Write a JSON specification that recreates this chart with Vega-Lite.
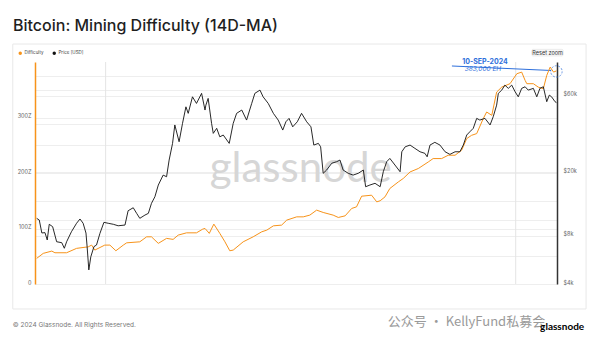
{
  "$schema": "https://vega.github.io/schema/vega-lite/v6.json",
  "width": 522,
  "height": 222,
  "autosize": {"type": "none"},
  "padding": {"left": 35, "top": 62, "right": 43, "bottom": 62},
  "background": "#ffffff",
  "title": {"text": "Bitcoin: Mining Difficulty (14D-MA)", "anchor": "start", "frame": "group", "fontSize": 16, "fontWeight": 500, "font": "Inter", "color": "#1f1f1f", "dx": -22, "dy": 19, "offset": 15.5, "baseline": "alphabetic"},
  "config": {"view": {"stroke": null}, "font": "Inter", "axis": {"labelFont": "Inter"}, "legend": {"labelFont": "Inter"}},
  "datasets": {
    "difficulty": [
      {"date": "2019-09-12", "difficulty": 46.2}, {"date": "2019-10-05", "difficulty": 55.2}, {"date": "2019-11-04", "difficulty": 59.3}, {"date": "2019-11-15", "difficulty": 56.3}, {"date": "2019-12-26", "difficulty": 56.3},
      {"date": "2020-01-30", "difficulty": 64.2}, {"date": "2020-03-11", "difficulty": 67.0}, {"date": "2020-03-23", "difficulty": 70.1}, {"date": "2020-04-03", "difficulty": 61.1}, {"date": "2020-05-08", "difficulty": 70.1},
      {"date": "2020-05-26", "difficulty": 70.1}, {"date": "2020-06-16", "difficulty": 59.9}, {"date": "2020-07-12", "difficulty": 70.1}, {"date": "2020-07-24", "difficulty": 74.2}, {"date": "2020-09-08", "difficulty": 76.0},
      {"date": "2020-10-02", "difficulty": 85.0}, {"date": "2020-10-19", "difficulty": 85.0}, {"date": "2020-11-12", "difficulty": 73.2}, {"date": "2020-12-11", "difficulty": 82.2}, {"date": "2021-01-03", "difficulty": 80.4},
      {"date": "2021-01-21", "difficulty": 88.1}, {"date": "2021-02-19", "difficulty": 92.2}, {"date": "2021-03-26", "difficulty": 92.2}, {"date": "2021-04-17", "difficulty": 98.9}, {"date": "2021-04-25", "difficulty": 100.1},
      {"date": "2021-05-10", "difficulty": 91.2}, {"date": "2021-05-26", "difficulty": 107.9}, {"date": "2021-06-16", "difficulty": 91.2}, {"date": "2021-07-04", "difficulty": 76.0}, {"date": "2021-07-21", "difficulty": 59.9},
      {"date": "2021-08-02", "difficulty": 61.1}, {"date": "2021-09-06", "difficulty": 76.0}, {"date": "2021-10-11", "difficulty": 85.0}, {"date": "2021-11-10", "difficulty": 94.0}, {"date": "2021-11-28", "difficulty": 97.1},
      {"date": "2021-12-21", "difficulty": 104.8}, {"date": "2022-01-19", "difficulty": 106.1}, {"date": "2022-02-06", "difficulty": 115.1}, {"date": "2022-03-13", "difficulty": 121.0}, {"date": "2022-04-05", "difficulty": 121.0},
      {"date": "2022-04-28", "difficulty": 124.1}, {"date": "2022-05-22", "difficulty": 133.1}, {"date": "2022-06-14", "difficulty": 128.9}, {"date": "2022-07-19", "difficulty": 124.1}, {"date": "2022-08-06", "difficulty": 119.9},
      {"date": "2022-08-30", "difficulty": 122.8}, {"date": "2022-09-22", "difficulty": 136.1}, {"date": "2022-10-09", "difficulty": 139.0}, {"date": "2022-10-27", "difficulty": 158.2}, {"date": "2022-12-01", "difficulty": 160.0},
      {"date": "2022-12-19", "difficulty": 148.0}, {"date": "2022-12-31", "difficulty": 150.0}, {"date": "2023-01-17", "difficulty": 157.0}, {"date": "2023-02-03", "difficulty": 172.1}, {"date": "2023-03-05", "difficulty": 184.0},
      {"date": "2023-03-22", "difficulty": 190.1}, {"date": "2023-04-15", "difficulty": 201.9}, {"date": "2023-05-14", "difficulty": 208.1}, {"date": "2023-06-18", "difficulty": 219.9}, {"date": "2023-07-05", "difficulty": 226.0},
      {"date": "2023-08-04", "difficulty": 226.0}, {"date": "2023-08-27", "difficulty": 232.0}, {"date": "2023-09-20", "difficulty": 232.0}, {"date": "2023-10-13", "difficulty": 241.0}, {"date": "2023-10-31", "difficulty": 262.0},
      {"date": "2023-11-17", "difficulty": 267.9}, {"date": "2023-12-05", "difficulty": 271.0}, {"date": "2023-12-28", "difficulty": 298.0}, {"date": "2024-01-09", "difficulty": 309.9}, {"date": "2024-01-27", "difficulty": 303.9},
      {"date": "2024-02-13", "difficulty": 345.8}, {"date": "2024-03-02", "difficulty": 354.8}, {"date": "2024-03-31", "difficulty": 360.9}, {"date": "2024-04-24", "difficulty": 378.9}, {"date": "2024-05-11", "difficulty": 381.8},
      {"date": "2024-05-23", "difficulty": 366.9}, {"date": "2024-05-29", "difficulty": 360.9}, {"date": "2024-06-21", "difficulty": 360.9}, {"date": "2024-07-08", "difficulty": 354.8}, {"date": "2024-07-26", "difficulty": 351.9},
      {"date": "2024-08-07", "difficulty": 375.9}, {"date": "2024-08-19", "difficulty": 390.8}, {"date": "2024-08-31", "difficulty": 381.8}, {"date": "2024-09-10", "difficulty": 384.0}
    ],
    "price": [
      {"date": "2019-09-12", "price": 10290}, {"date": "2019-09-21", "price": 10050}, {"date": "2019-09-30", "price": 8340}, {"date": "2019-10-11", "price": 8380}, {"date": "2019-10-19", "price": 7540},
      {"date": "2019-10-26", "price": 9450}, {"date": "2019-11-07", "price": 9130}, {"date": "2019-11-21", "price": 7350}, {"date": "2019-12-09", "price": 7250}, {"date": "2019-12-18", "price": 6690},
      {"date": "2019-12-26", "price": 7350}, {"date": "2020-01-12", "price": 8490}, {"date": "2020-01-30", "price": 9590}, {"date": "2020-02-11", "price": 10200}, {"date": "2020-02-22", "price": 9590},
      {"date": "2020-03-03", "price": 8330}, {"date": "2020-03-07", "price": 6850}, {"date": "2020-03-13", "price": 4900}, {"date": "2020-03-20", "price": 5920}, {"date": "2020-03-31", "price": 6850},
      {"date": "2020-04-09", "price": 7010}, {"date": "2020-04-21", "price": 8290}, {"date": "2020-05-05", "price": 9720}, {"date": "2020-05-20", "price": 9590}, {"date": "2020-06-07", "price": 9450},
      {"date": "2020-06-24", "price": 9250}, {"date": "2020-07-18", "price": 9350}, {"date": "2020-07-29", "price": 11490}, {"date": "2020-08-16", "price": 11990}, {"date": "2020-08-28", "price": 11060},
      {"date": "2020-09-08", "price": 10300}, {"date": "2020-09-26", "price": 10790}, {"date": "2020-10-08", "price": 11060}, {"date": "2020-10-19", "price": 12780}, {"date": "2020-10-31", "price": 14050},
      {"date": "2020-11-12", "price": 16630}, {"date": "2020-11-29", "price": 19190}, {"date": "2020-12-11", "price": 18740}, {"date": "2020-12-20", "price": 23830}, {"date": "2021-01-01", "price": 30300},
      {"date": "2021-01-09", "price": 39500}, {"date": "2021-01-24", "price": 31020}, {"date": "2021-02-05", "price": 40430}, {"date": "2021-02-17", "price": 51290}, {"date": "2021-02-25", "price": 46690},
      {"date": "2021-03-12", "price": 59250}, {"date": "2021-03-26", "price": 53870}, {"date": "2021-04-13", "price": 62250}, {"date": "2021-04-25", "price": 48970}, {"date": "2021-04-28", "price": 52530},
      {"date": "2021-05-06", "price": 57900}, {"date": "2021-05-18", "price": 40430}, {"date": "2021-05-24", "price": 35000}, {"date": "2021-06-05", "price": 37640}, {"date": "2021-06-16", "price": 33290},
      {"date": "2021-06-28", "price": 34170}, {"date": "2021-07-19", "price": 30300}, {"date": "2021-08-02", "price": 40430}, {"date": "2021-08-14", "price": 46690}, {"date": "2021-09-01", "price": 48970},
      {"date": "2021-09-18", "price": 42390}, {"date": "2021-10-06", "price": 53870}, {"date": "2021-10-17", "price": 62250}, {"date": "2021-11-04", "price": 65250}, {"date": "2021-11-15", "price": 59250},
      {"date": "2021-12-03", "price": 53870}, {"date": "2021-12-21", "price": 46690}, {"date": "2022-01-07", "price": 42390}, {"date": "2022-01-23", "price": 36710}, {"date": "2022-02-03", "price": 41360},
      {"date": "2022-02-14", "price": 43430}, {"date": "2022-02-27", "price": 38460}, {"date": "2022-03-15", "price": 41360}, {"date": "2022-03-30", "price": 46690}, {"date": "2022-04-17", "price": 41360},
      {"date": "2022-05-02", "price": 38460}, {"date": "2022-05-12", "price": 29570}, {"date": "2022-05-28", "price": 30300}, {"date": "2022-06-05", "price": 28850}, {"date": "2022-06-14", "price": 19690},
      {"date": "2022-06-26", "price": 20640}, {"date": "2022-07-14", "price": 22750}, {"date": "2022-07-31", "price": 23270}, {"date": "2022-08-12", "price": 23830}, {"date": "2022-08-23", "price": 20640},
      {"date": "2022-09-10", "price": 19690}, {"date": "2022-09-27", "price": 19190}, {"date": "2022-10-15", "price": 19690}, {"date": "2022-11-02", "price": 20640}, {"date": "2022-11-10", "price": 16230},
      {"date": "2022-11-25", "price": 16630}, {"date": "2022-12-13", "price": 17050}, {"date": "2022-12-31", "price": 16230}, {"date": "2023-01-11", "price": 20140}, {"date": "2023-01-23", "price": 23270},
      {"date": "2023-02-03", "price": 24400}, {"date": "2023-02-21", "price": 22180}, {"date": "2023-03-11", "price": 20140}, {"date": "2023-03-17", "price": 26850}, {"date": "2023-03-29", "price": 28850},
      {"date": "2023-04-15", "price": 29570}, {"date": "2023-05-02", "price": 28200}, {"date": "2023-05-20", "price": 26850}, {"date": "2023-06-06", "price": 26250}, {"date": "2023-06-14", "price": 24980},
      {"date": "2023-06-24", "price": 29570}, {"date": "2023-07-11", "price": 30760}, {"date": "2023-07-29", "price": 29570}, {"date": "2023-08-16", "price": 26850}, {"date": "2023-09-02", "price": 25860},
      {"date": "2023-09-20", "price": 26850}, {"date": "2023-10-07", "price": 26850}, {"date": "2023-10-19", "price": 29570}, {"date": "2023-10-31", "price": 34170}, {"date": "2023-11-11", "price": 35820},
      {"date": "2023-11-23", "price": 37640}, {"date": "2023-12-05", "price": 43430}, {"date": "2023-12-16", "price": 42390}, {"date": "2024-01-03", "price": 43430}, {"date": "2024-01-21", "price": 39500},
      {"date": "2024-02-01", "price": 44460}, {"date": "2024-02-13", "price": 52530}, {"date": "2024-02-19", "price": 62250}, {"date": "2024-03-02", "price": 65250}, {"date": "2024-03-13", "price": 70110},
      {"date": "2024-03-25", "price": 66900}, {"date": "2024-04-06", "price": 70110}, {"date": "2024-04-18", "price": 63690}, {"date": "2024-04-29", "price": 59250}, {"date": "2024-05-11", "price": 66900},
      {"date": "2024-05-23", "price": 68450}, {"date": "2024-06-03", "price": 65250}, {"date": "2024-06-21", "price": 66900}, {"date": "2024-07-03", "price": 59250}, {"date": "2024-07-14", "price": 66900},
      {"date": "2024-07-26", "price": 68450}, {"date": "2024-08-07", "price": 55220}, {"date": "2024-08-16", "price": 60700}, {"date": "2024-08-24", "price": 59250}, {"date": "2024-09-05", "price": 55220},
      {"date": "2024-09-10", "price": 54500}
    ],
    "halvings": [{"event": "Halving", "date": "2020-05-11"}, {"event": "Halving", "date": "2024-04-20"}]
  },
  "layer": [
    {
      "layer": [
        {
          "data": {"values": [{"item": "frame"}]},
          "mark": {"type": "rect", "fill": null, "stroke": "#e8e8e8", "strokeWidth": 1},
          "encoding": {
            "x": {"datum": {"year": 2019, "month": 6, "date": 20, "utc": true}, "type": "temporal", "axis": null},
            "x2": {"datum": {"year": 2024, "month": 12, "date": 23, "utc": true}},
            "y": {"datum": 432.4, "type": "quantitative", "axis": null, "scale": {"domain": [0, 400], "nice": false, "zero": false}},
            "y2": {"datum": -45}
          }
        },
        {
          "data": {"values": [{"label": "glassnode"}]},
          "mark": {"type": "text", "font": "Lato", "fontSize": 42, "color": "#d6d6d6", "align": "center", "baseline": "alphabetic"},
          "encoding": {
            "x": {"datum": {"year": 2022, "month": 3, "date": 27, "utc": true}, "type": "temporal", "axis": null},
            "y": {"datum": 183.8, "type": "quantitative", "axis": null},
            "text": {"field": "label"}
          }
        },
        {
          "data": {"name": "halvings"},
          "mark": {"type": "rule", "color": "#e4e4e4", "strokeWidth": 1},
          "encoding": {"x": {"field": "date", "type": "temporal", "axis": null}}
        },
        {
          "data": {"values": [{"item": "pointer"}]},
          "mark": {"type": "rule", "color": "#2e6fdb", "strokeWidth": 1},
          "encoding": {
            "x": {"datum": {"year": 2023, "month": 9, "date": 9, "utc": true}, "type": "temporal", "axis": null},
            "x2": {"datum": {"year": 2024, "month": 8, "date": 22, "utc": true}},
            "y": {"datum": 392.8, "type": "quantitative", "axis": null},
            "y2": {"datum": 384.7}
          }
        },
        {
          "data": {"values": [{"item": "marker"}]},
          "mark": {"type": "point", "shape": "circle", "size": 130, "filled": false, "stroke": "#2e6fdb", "strokeWidth": 1, "strokeDash": [2, 1.5]},
          "encoding": {
            "x": {"datum": {"year": 2024, "month": 9, "date": 10, "utc": true}, "type": "temporal", "axis": null},
            "y": {"datum": 383, "type": "quantitative", "axis": null}
          }
        },
        {
          "data": {"values": [{"label": "10-SEP-2024"}]},
          "mark": {"type": "text", "fontSize": 7, "fontWeight": "bold", "color": "#2e6fdb", "align": "center", "baseline": "middle"},
          "encoding": {
            "x": {"datum": {"year": 2024, "month": 1, "date": 3, "utc": true}, "type": "temporal", "axis": null},
            "y": {"datum": 399.5, "type": "quantitative", "axis": null},
            "text": {"field": "label"}
          }
        },
        {
          "data": {"values": [{"label": "383,000 EH"}]},
          "mark": {"type": "text", "fontSize": 6.5, "fontStyle": "italic", "color": "#2e6fdb", "align": "center", "baseline": "middle"},
          "encoding": {
            "x": {"datum": {"year": 2023, "month": 12, "date": 27, "utc": true}, "type": "temporal", "axis": null},
            "y": {"datum": 386.5, "type": "quantitative", "axis": null},
            "text": {"field": "label"}
          }
        },
        {
          "data": {"values": [{"item": "button"}]},
          "mark": {"type": "rect", "fill": "#f7f7f7", "stroke": "#dddddd", "strokeWidth": 0.5, "cornerRadius": 1.5},
          "encoding": {
            "x": {"datum": {"year": 2024, "month": 6, "date": 15, "utc": true}, "type": "temporal", "axis": null},
            "x2": {"datum": {"year": 2024, "month": 10, "date": 4, "utc": true}},
            "y": {"datum": 422.9, "type": "quantitative", "axis": null},
            "y2": {"datum": 410.8}
          }
        },
        {
          "data": {"values": [{"label": "Reset zoom"}]},
          "mark": {"type": "text", "fontSize": 5.5, "color": "#333333", "align": "center", "baseline": "middle"},
          "encoding": {
            "x": {"datum": {"year": 2024, "month": 8, "date": 10, "utc": true}, "type": "temporal", "axis": null},
            "y": {"datum": 416.8, "type": "quantitative", "axis": null},
            "text": {"field": "label"}
          }
        },
        {
          "data": {"values": [{"label": "© 2024 Glassnode. All Rights Reserved."}]},
          "mark": {"type": "text", "fontSize": 6.5, "color": "#777777", "align": "left", "baseline": "middle"},
          "encoding": {
            "x": {"datum": {"year": 2019, "month": 6, "date": 20, "utc": true}, "type": "temporal", "axis": null},
            "y": {"datum": -73.9, "type": "quantitative", "axis": null},
            "text": {"field": "label"}
          }
        },
        {
          "data": {"values": [{"label": "公众号 · KellyFund私募会"}]},
          "mark": {"type": "text", "font": "Noto Sans CJK SC", "fontSize": 13, "color": "#9a9a9a", "align": "left", "baseline": "middle"},
          "encoding": {
            "x": {"datum": {"year": 2023, "month": 1, "date": 27, "utc": true}, "type": "temporal", "axis": null},
            "y": {"datum": -68.5, "type": "quantitative", "axis": null},
            "text": {"field": "label"}
          }
        },
        {
          "data": {"values": [{"label": "glassnode"}]},
          "mark": {"type": "text", "font": "Lato", "fontSize": 10, "fontWeight": "bold", "color": "#000000", "align": "center", "baseline": "middle"},
          "encoding": {
            "x": {"datum": {"year": 2024, "month": 9, "date": 30, "utc": true}, "type": "temporal", "axis": null},
            "y": {"datum": -77.5, "type": "quantitative", "axis": null},
            "text": {"field": "label"}
          }
        }
      ]
    },
    {
      "data": {"name": "difficulty"},
      "mark": {"type": "line", "strokeWidth": 1},
      "encoding": {
        "x": {
          "field": "date", "type": "temporal",
          "scale": {"type": "utc", "domain": [{"year": 2019, "month": 9, "date": 6, "utc": true}, {"year": 2024, "month": 9, "date": 12, "utc": true}], "nice": false},
          "axis": {
            "title": null, "grid": false, "domain": false, "ticks": false, "labelFontSize": 5.5, "labelColor": "#666666", "labelPadding": 6,
            "values": [
              {"year": 2020, "month": 1, "date": 1, "utc": true}, {"year": 2020, "month": 7, "date": 1, "utc": true},
              {"year": 2021, "month": 1, "date": 1, "utc": true}, {"year": 2021, "month": 7, "date": 1, "utc": true},
              {"year": 2022, "month": 1, "date": 1, "utc": true}, {"year": 2022, "month": 7, "date": 1, "utc": true},
              {"year": 2023, "month": 1, "date": 1, "utc": true}, {"year": 2023, "month": 7, "date": 1, "utc": true},
              {"year": 2024, "month": 1, "date": 1, "utc": true}, {"year": 2024, "month": 7, "date": 1, "utc": true}
            ],
            "labelExpr": "utcFormat(datum.value, \"%b '%y\")"
          }
        },
        "y": {
          "field": "difficulty", "type": "quantitative",
          "scale": {"domain": [0, 400], "nice": false, "zero": false},
          "axis": {
            "orient": "left", "title": null, "ticks": false, "grid": true, "gridColor": "#eeeeee", "gridWidth": 1,
            "domainColor": "#f7931a", "domainWidth": 1.5, "labelFontSize": 5.5, "labelColor": "#666666", "labelPadding": 4, "labelOffset": -2,
            "values": [0, 50, 100, 150, 200, 250, 300, 350],
            "labelExpr": "datum.value % 100 === 0 ? (datum.value === 0 ? '0' : datum.value + 'Z') : ''"
          }
        },
        "color": {
          "datum": "Difficulty",
          "scale": {"domain": ["Difficulty", "Price [USD]"], "range": ["#f7931a", "#111111"]},
          "legend": {
            "title": null, "orient": "none", "legendX": -17, "legendY": -11, "direction": "horizontal",
            "symbolType": "circle", "symbolSize": 12, "symbolStrokeWidth": 0, "labelFontSize": 4.5, "labelColor": "#444444",
            "labelOffset": 2, "columnPadding": 8,
            "encode": {"symbols": {"update": {"fill": {"scale": "color", "field": "value"}, "stroke": {"value": "transparent"}}}}
          }
        }
      }
    },
    {
      "data": {"name": "price"},
      "mark": {"type": "line", "strokeWidth": 0.9},
      "encoding": {
        "x": {"field": "date", "type": "temporal", "axis": null},
        "y": {
          "field": "price", "type": "quantitative",
          "scale": {"type": "log", "domain": [4000, 97800], "nice": false},
          "axis": {
            "orient": "right", "title": null, "ticks": false, "grid": true, "gridColor": "#eeeeee", "gridWidth": 1,
            "domainColor": "#333333", "domainWidth": 1.5, "labelFontSize": 5.5, "labelColor": "#666666", "labelPadding": 6, "labelOffset": -2,
            "values": [4000, 8000, 10000, 20000, 40000, 60000, 80000],
            "labelExpr": "indexof([4000, 8000, 20000, 60000], datum.value) >= 0 ? '$' + datum.value / 1000 + 'k' : ''"
          }
        },
        "color": {"datum": "Price [USD]", "legend": null}
      }
    }
  ],
  "resolve": {"scale": {"y": "independent"}}
}
